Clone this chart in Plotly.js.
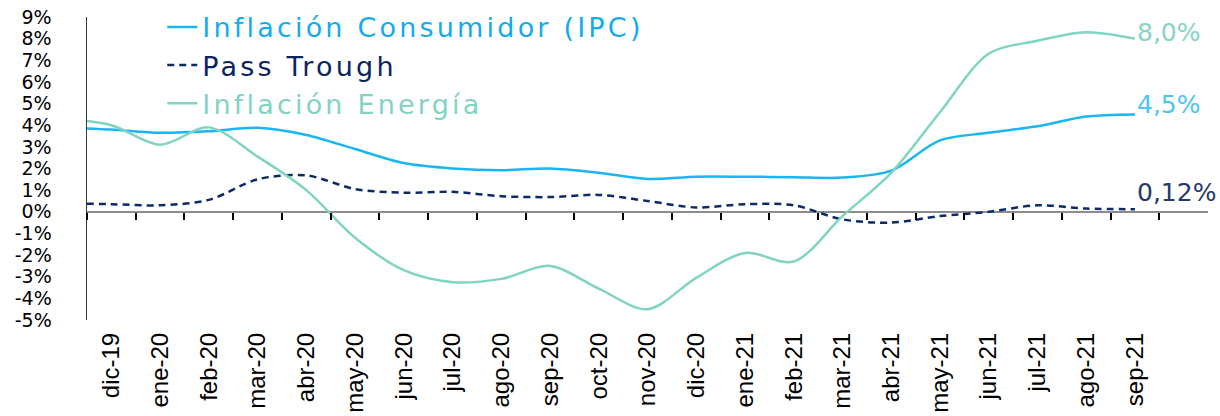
<!DOCTYPE html>
<html>
<head>
<meta charset="utf-8">
<script src="https://cdn.plot.ly/plotly-3.0.1.min.js"></script>
<style>
html,body{margin:0;padding:0;background:#fff;}
#chart{width:1220px;height:416px;}
</style>
</head>
<body>
<div id="chart"></div>
<script>
// Category labels (months shown on the axis)
const meses = ['dic-19','ene-20','feb-20','mar-20','abr-20','may-20','jun-20','jul-20','ago-20','sep-20','oct-20','nov-20','dic-20','ene-21','feb-21','mar-21','abr-21','may-21','jun-21','jul-21','ago-21','sep-21'];
// Previous month (off-axis, line enters from the left edge)
const mesPrevio = 'nov-19';

// Series values in %, from nov-19 to sep-21
const inflacionIPC =     [3.9, 3.8, 3.65, 3.72, 3.88, 3.55, 2.9, 2.25, 2.0, 1.92, 2.0, 1.8, 1.52, 1.62, 1.62, 1.6, 1.58, 1.9, 3.3, 3.65, 3.95, 4.4, 4.5];
const passTrough =       [0.4, 0.35, 0.3, 0.55, 1.5, 1.68, 1.05, 0.88, 0.92, 0.72, 0.68, 0.78, 0.5, 0.2, 0.35, 0.3, -0.35, -0.5, -0.2, 0.0, 0.3, 0.15, 0.12];
const inflacionEnergia = [4.3, 4.0, 3.1, 3.9, 2.55, 1.0, -1.2, -2.7, -3.25, -3.1, -2.5, -3.55, -4.5, -3.05, -1.9, -2.3, -0.2, 1.8, 4.6, 7.3, 7.9, 8.3, 8.0];

const nombres = ['Inflación Consumidor (IPC)', 'Pass Trough', 'Inflación Energía'];
const yTicks = [-5,-4,-3,-2,-1,0,1,2,3,4,5,6,7,8,9];

const cIPC = '#1ab6f2', cPass = '#0c2a66', cEner = '#7fd4c2';
const cIPCtxt = '#12acee', cPassTxt = '#0a2462', cEnerTxt = '#82d3c3';
const cIPClab = '#4cc6f5', cPassLab = '#243a6b', cEnerLab = '#86d4c4';

const xs = [-1].concat(meses.map((_, i) => i));
const yMin = yTicks[0], yMax = yTicks[yTicks.length - 1];
const zeroFrac = (0 - yMin) / (yMax - yMin);
const xRange = [-0.5, meses.length + 0.5];

function lbl(t, c) { return '<span style="color:' + c + ';letter-spacing:3.2px">' + t + '</span>'; }
function fmt(v, d) { return v.toFixed(d).replace('.', ',') + '%'; }

const traces = [
  {x: xs, y: inflacionIPC, type: 'scatter', mode: 'lines', name: lbl(nombres[0], cIPCtxt),
   line: {color: cIPC, width: 2.5, shape: 'spline', smoothing: 0.9}, hoverinfo: 'skip'},
  {x: xs, y: passTrough, type: 'scatter', mode: 'lines', name: lbl(nombres[1], cPassTxt),
   line: {color: cPass, width: 2.5, dash: '7px,5px', shape: 'spline', smoothing: 0.9}, hoverinfo: 'skip'},
  {x: xs, y: inflacionEnergia, type: 'scatter', mode: 'lines', name: lbl(nombres[2], cEnerTxt),
   line: {color: cEner, width: 2.5, shape: 'spline', smoothing: 0.9}, hoverinfo: 'skip'},
  {x: [], y: [], xaxis: 'x2', yaxis: 'y2', type: 'scatter', mode: 'lines', showlegend: false, hoverinfo: 'skip'}
];

const last = meses.length - 1;
const annotations = [
  {x: last, y: inflacionEnergia[inflacionEnergia.length - 1], text: fmt(inflacionEnergia[inflacionEnergia.length - 1], 1), color: cEnerLab, ys: 6},
  {x: last, y: inflacionIPC[inflacionIPC.length - 1], text: fmt(inflacionIPC[inflacionIPC.length - 1], 1), color: cIPClab, ys: 10},
  {x: last, y: passTrough[passTrough.length - 1], text: fmt(passTrough[passTrough.length - 1], 2), color: cPassLab, ys: 17}
].map(a => ({
  x: a.x, y: a.y, xref: 'x', yref: 'y', text: a.text, showarrow: false,
  xanchor: 'left', yanchor: 'middle', xshift: 0, yshift: a.ys,
  font: {family: 'DejaVu Sans', size: 25, color: a.color}
}));

const layout = {
  width: 1220, height: 416,
  margin: {l: 87, r: 12, t: 17, b: 96, pad: 0, autoexpand: false},
  paper_bgcolor: '#ffffff', plot_bgcolor: 'rgba(0,0,0,0)',
  hovermode: false,
  showlegend: true,
  legend: {xref: 'container', yref: 'container', x: 0.133, xanchor: 'left', y: 0.993, yanchor: 'top',
           bgcolor: 'rgba(0,0,0,0)', borderwidth: 0,
           font: {family: 'DejaVu Sans', size: 27, color: '#000'},
           traceorder: 'normal', itemwidth: 30},
  xaxis: {range: xRange, tickmode: 'array', tickvals: meses.map((_, i) => i), ticktext: meses,
          tickangle: -90, ticks: '', showline: false, showgrid: false, zeroline: false,
          ticklabelstandoff: 7, automargin: false,
          tickfont: {family: 'Liberation Sans, Arial', size: 24, color: '#000'}},
  yaxis: {range: [yMin, yMax], tickmode: 'array', tickvals: yTicks, ticktext: yTicks.map(v => v + '%'),
          ticks: '', showline: true, linecolor: '#3a3a3a', linewidth: 1.5, showgrid: false,
          zeroline: true, zerolinecolor: '#8c8c8c', zerolinewidth: 2,
          ticklabelstandoff: 30, automargin: false,
          tickfont: {family: 'DejaVu Sans', size: 19, color: '#000'}},
  xaxis2: {range: xRange, anchor: 'y2', tickmode: 'array',
           tickvals: meses.map((_, i) => i - 0.5).concat([meses.length - 0.5]),
           ticks: 'outside', ticklen: 7, tickwidth: 2, tickcolor: '#000',
           showticklabels: false, showline: false, showgrid: false, zeroline: false},
  yaxis2: {domain: [zeroFrac, 1], range: [0, 1], visible: false, anchor: 'x2'},
  annotations: annotations
};

Plotly.newPlot('chart', traces, layout, {staticPlot: true, displayModeBar: false});
</script>
</body>
</html>
